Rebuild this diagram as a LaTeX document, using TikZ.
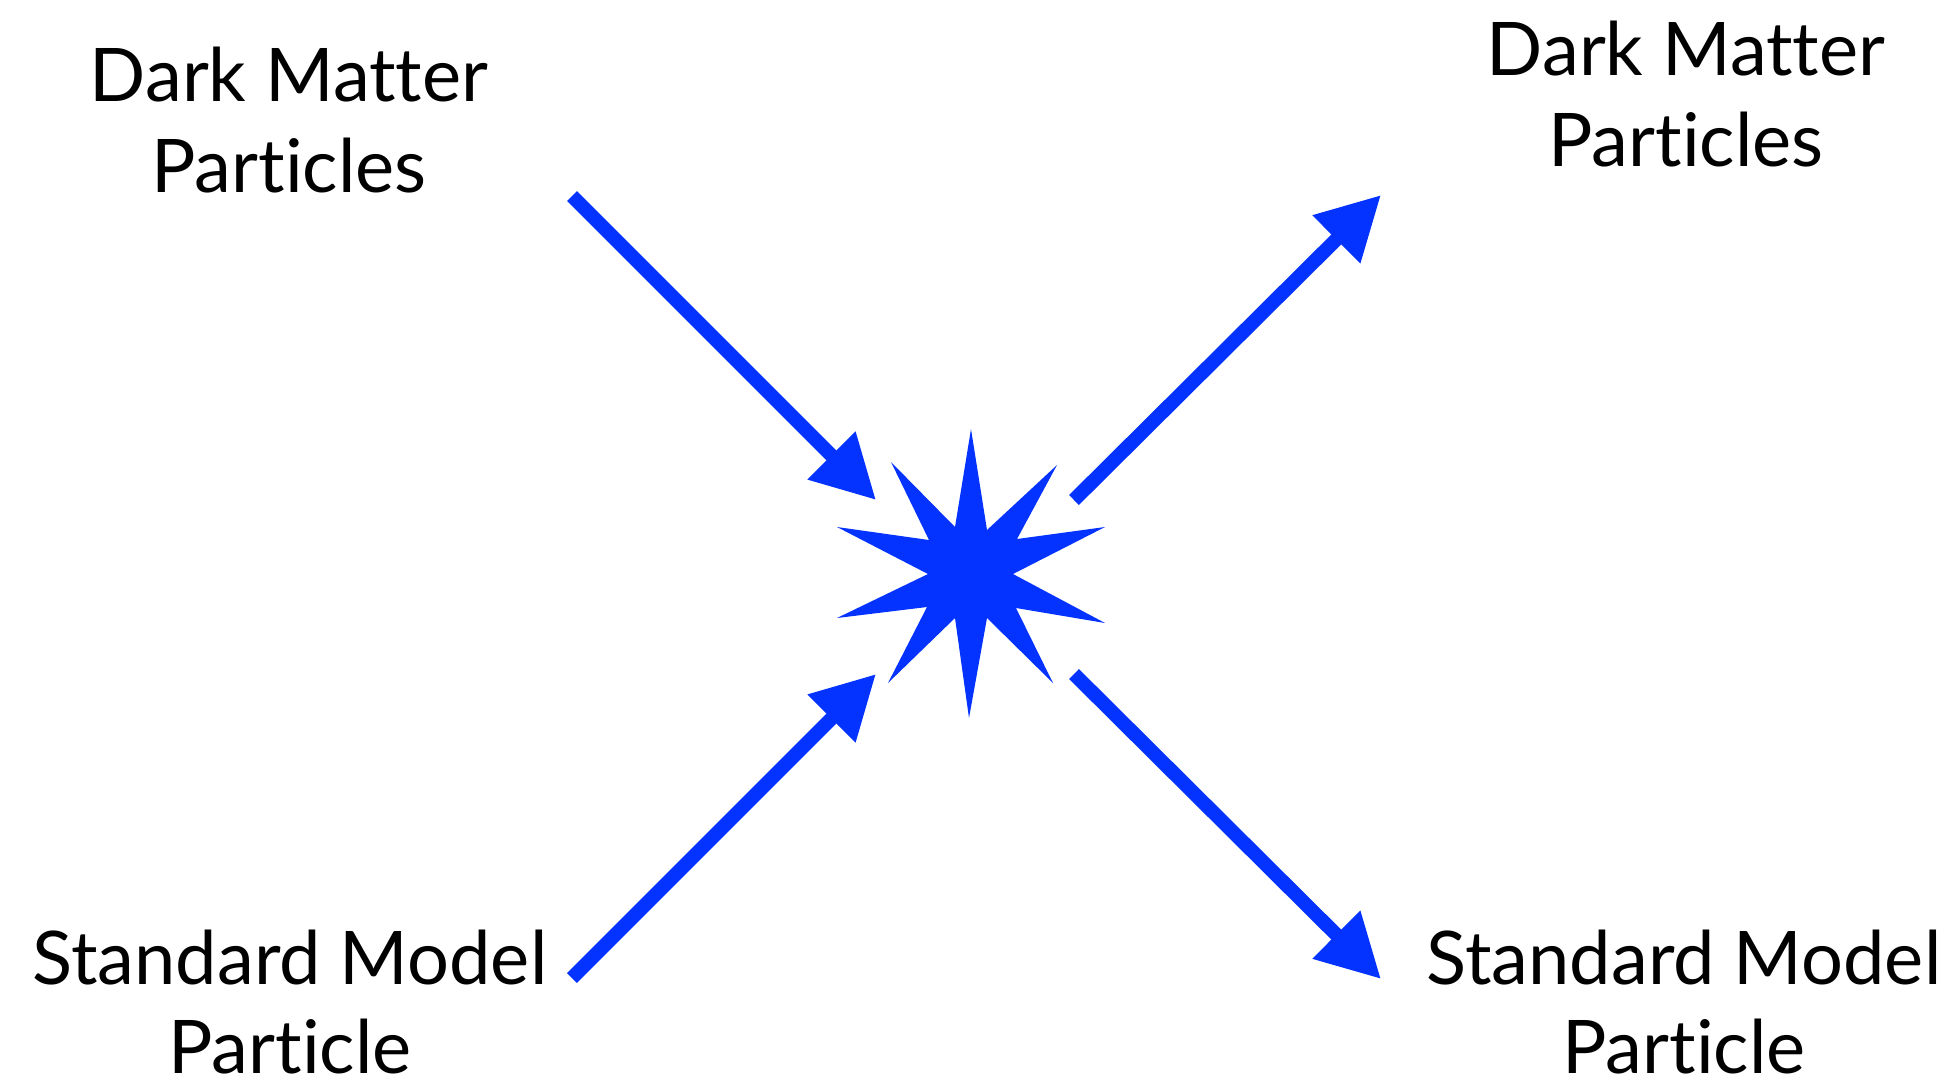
\documentclass[tikz,border=0pt]{standalone}
\usepackage{fontspec}
\setmainfont{Lato}[Ligatures=NoCommon]
\usetikzlibrary{arrows.meta}
\definecolor{kblue}{RGB}{4,51,255}
\begin{document}
\begin{tikzpicture}[x=0.5pt,y=-0.5pt,
  lbl/.style={anchor=base,inner sep=0pt,font=\fontsize{37}{45}\selectfont},
  flow/.style={draw=kblue,line width=7pt,-{Triangle[length=31.5pt,width=32pt]}}]
\useasboundingbox (0,0) rectangle (1950,1084);
% star
\node[coordinate] (star) at (970,574) {};
\fill[kblue] (971,429) -- (987,530) -- (1057,465) -- (1017,539) -- (1105,527) -- (1013,574)
  -- (1105,623) -- (1016,608) -- (1053,683) -- (987,618) -- (969,718) -- (955,618)
  -- (888,683) -- (927,607) -- (837,618) -- (928,574) -- (837,527) -- (929,540)
  -- (891,462) -- (955,527) -- cycle;
% labels
\node[lbl] (dmin1) at (289,101) {Dark Matter};
\node[lbl] (dmin2) at (289,192) {Particles};
\node[lbl] (dmout1) at (1686,75) {Dark Matter};
\node[lbl] (dmout2) at (1686,166) {Particles};
\node[lbl] (smin1) at (290,984) {Standard Model};
\node[lbl] (smin2) at (290,1073) {Particle};
\node[lbl] (smout1) at (1684,984) {Standard Model};
\node[lbl] (smout2) at (1684,1073) {Particle};
% arrow end points
\coordinate (a1s) at (572,196); \coordinate (a1e) at (876,500);
\coordinate (a2s) at (572,978); \coordinate (a2e) at (876,674);
\coordinate (a3s) at (1074,500); \coordinate (a3e) at (1381,195);
\coordinate (a4s) at (1074,674); \coordinate (a4e) at (1381,979);
\draw[flow] (a1s) -- (a1e);
\draw[flow] (a2s) -- (a2e);
\draw[flow] (a3s) -- (a3e);
\draw[flow] (a4s) -- (a4e);
\end{tikzpicture}
\end{document}
